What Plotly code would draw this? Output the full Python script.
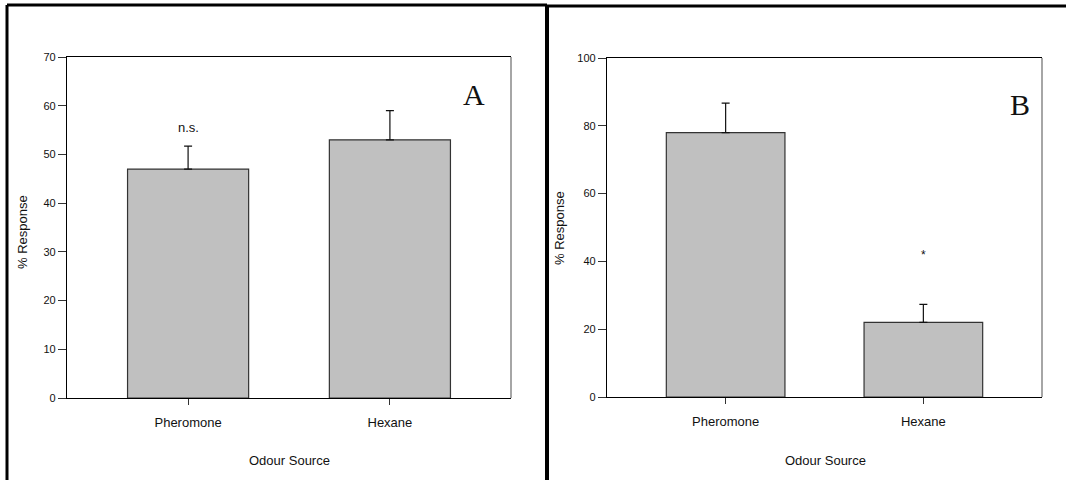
import plotly.graph_objects as go

categories = ["Pheromone", "Hexane"]
positions = [0, 1]
values_a = [47, 53]
errors_a = [4.7, 6.0]
values_b = [78, 22]
errors_b = [8.7, 5.3]
ticks_a = [0, 10, 20, 30, 40, 50, 60, 70]
ticks_b = [0, 20, 40, 60, 80, 100]

W, H = 1066, 480
FONT = "Liberation Sans, Arial, sans-serif"

fig = go.Figure()

def add_bars(vals, errs, xa, ya):
    fig.add_trace(go.Bar(
        x=positions, y=vals, width=0.6,
        marker=dict(color="#c0c0c0", line=dict(color="#333333", width=1.2)),
        error_y=dict(type="data", symmetric=False, array=errs, arrayminus=[0, 0],
                     color="#111111", thickness=1.2, width=4),
        xaxis=xa, yaxis=ya, showlegend=False, hoverinfo="skip",
    ))

add_bars(values_a, errors_a, "x", "y")
add_bars(values_b, errors_b, "x2", "y2")

def px(x):
    return x / W

def py(y):
    return 1 - y / H

xcommon = dict(range=[-0.6, 1.6], tickvals=positions, ticktext=categories,
               showline=True, linecolor="black", linewidth=1.2, mirror=True,
               ticks="outside", ticklen=6, tickcolor="#333", tickwidth=1,
               tickfont=dict(family=FONT, size=13, color="#111"),
               ticklabelstandoff=6, showgrid=False, zeroline=False, fixedrange=True,
               automargin=False)
ycommon = dict(showline=True, linecolor="black", linewidth=1.2,
               ticks="outside", ticklen=8, tickcolor="#333", tickwidth=1,
               tickfont=dict(family=FONT, size=11, color="#111"),
               showgrid=False, zeroline=False, fixedrange=True, automargin=False)

fig.update_layout(
    width=W, height=H, autosize=False,
    margin=dict(l=0, r=0, t=0, b=0, pad=0),
    paper_bgcolor="white", plot_bgcolor="white",
    xaxis=dict(domain=[px(67), px(511)], anchor="y", **xcommon),
    yaxis=dict(domain=[py(398), py(57)], anchor="x", range=[0, 70],
               tickvals=ticks_a, **ycommon),
    xaxis2=dict(domain=[px(607), px(1042)], anchor="y2", **xcommon),
    yaxis2=dict(domain=[py(397), py(58)], anchor="x2", range=[0, 100],
                tickvals=ticks_b, **ycommon),
)

shapes = [
    dict(type="line", xref="x domain", yref="y domain", x0=1, x1=1, y0=0, y1=1,
         line=dict(color="#888888", width=1.5)),
    dict(type="line", xref="x2 domain", yref="y2 domain", x0=1, x1=1, y0=0, y1=1,
         line=dict(color="#888888", width=1.5)),
    dict(type="line", xref="paper", yref="paper", x0=px(7), x1=px(547), y0=py(5), y1=py(5),
         line=dict(color="black", width=3)),
    dict(type="line", xref="paper", yref="paper", x0=px(7), x1=px(7), y0=py(5), y1=py(490),
         line=dict(color="black", width=3)),
    dict(type="line", xref="paper", yref="paper", x0=px(547), x1=px(547), y0=py(5), y1=py(490),
         line=dict(color="black", width=4)),
    dict(type="line", xref="paper", yref="paper", x0=px(546), x1=px(1070), y0=py(6), y1=py(6),
         line=dict(color="black", width=3)),
]
fig.update_layout(shapes=shapes)

def ann(text, x, y, xref="paper", yref="paper", size=13, family=FONT, angle=0):
    return dict(text=text, x=x, y=y, xref=xref, yref=yref, showarrow=False,
                xanchor="center", yanchor="middle", textangle=angle,
                font=dict(family=family, size=size, color="#111"))

SERIF = "Liberation Serif, Times New Roman, serif"
annotations = [
    ann("n.s.", 0, 55.5, "x", "y"),
    ann("*", 1, 42, "x2", "y2", size=12),
    ann("A", px(474), py(95), family=SERIF, size=30),
    ann("B", px(1020), py(104), family=SERIF, size=30),
    ann("Odour Source", px(289), py(460)),
    ann("Odour Source", px(825), py(460)),
    ann("% Response", px(22), py(232), angle=-90),
    ann("% Response", px(559), py(228), angle=-90),
]
fig.update_layout(annotations=annotations)

fig.write_html("out.html", config={"displayModeBar": False},
               post_script="document.body.style.margin='0';document.body.style.overflow='hidden';")
